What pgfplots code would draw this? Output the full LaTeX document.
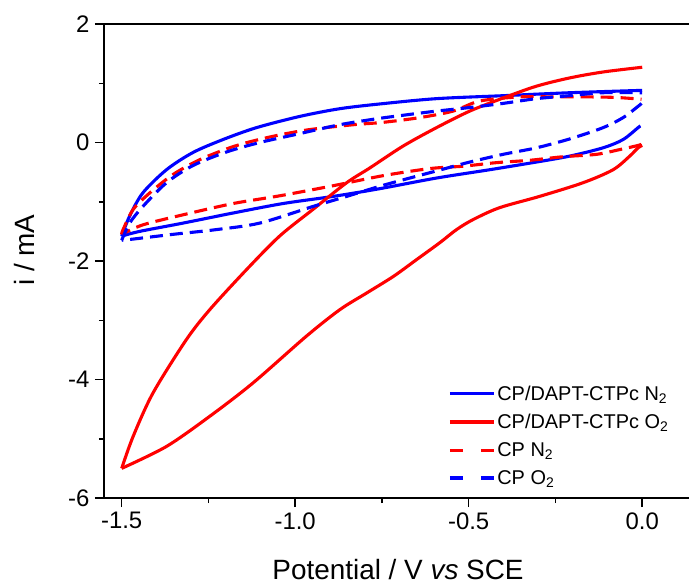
\documentclass[border=0pt]{standalone}
\usepackage{fontspec}
\setmainfont{Liberation Sans}
\usepackage{pgfplots}
\pgfplotsset{compat=1.18}
\pgfplotsset{
 solidlegend/.style={legend image code/.code={\draw[##1] (0bp,0bp) -- (44bp,0bp);}},
 dashlegend/.style={legend image code/.code={\draw[##1, dash pattern=on 13bp off 18bp] (0bp,0bp) -- (44bp,0bp);}},
 cv/.style={line width=3.1bp, smooth, tension=0.5},
 dsh/.style={dash pattern=on 13bp off 7bp},
}
\begin{document}
\begin{tikzpicture}
\begin{axis}[
 scale only axis, width=585bp, height=474bp,
 xmin=-1.551, xmax=0.1349, ymin=-6, ymax=2,
 axis x line*=bottom, axis y line*=left,
 axis line style={line width=1.5bp, -},
 xtick={-1.5,-1,-0.5,0}, ytick={-6,-4,-2,0,2},
 minor xtick={-1.25,-0.75,-0.25}, minor ytick={-5,-3,-1,1},
 tick align=outside, major tick length=9bp, minor tick length=5bp,
 every tick/.style={line width=1.5bp, black},
 xticklabel style={yshift=-2bp, /pgf/number format/.cd, fixed, fixed zerofill, precision=1},
 /pgf/number format/assume math mode=true,
 ticklabel style={font=\fontsize{24}{28}\selectfont},
 yticklabel style={xshift=-2bp},
 xlabel={Potential / V \textit{vs} SCE},
 ylabel={i / mA},
 xlabel style={at={(axis description cs:0.5026,-0.171)}, anchor=base, font=\fontsize{28}{32}\selectfont},
 ylabel style={at={(axis description cs:-0.136,0.523)}, anchor=center, font=\fontsize{28}{32}\selectfont},
 legend style={draw=none, fill=none, at={(axis description cs:0.583,0.246)}, anchor=north west,
   font=\fontsize{20}{24}\selectfont, row sep=8.5bp},
 legend cell align=left,
]
% CP/DAPT-CTPc N2
\addplot[blue, cv, solidlegend] coordinates {
(-0.005,0.28) (-0.012,0.25) (-0.055,0.05) (-0.113,-0.09) (-0.209,-0.23) (-0.305,-0.33) (-0.44,-0.46) (-0.593,-0.60) (-0.757,-0.78) (-0.891,-0.91) (-1.035,-1.03) (-1.179,-1.19) (-1.323,-1.36) (-1.448,-1.50) (-1.5,-1.58)
};
\addlegendentry{CP/DAPT-CTPc N\textsubscript{2}}
\addplot[blue, cv, forget plot] coordinates {
(-1.5,-1.58) (-1.477,-1.24) (-1.439,-0.85) (-1.371,-0.46) (-1.295,-0.17) (-1.208,0.05) (-1.112,0.25) (-0.987,0.44) (-0.872,0.57) (-0.757,0.65) (-0.593,0.74) (-0.401,0.79) (-0.209,0.84) (0,0.88)
};
% CP/DAPT-CTPc O2
\addplot[red, cv, solidlegend] coordinates {
(0,-0.05) (-0.012,-0.09) (-0.036,-0.23) (-0.084,-0.46) (-0.171,-0.68) (-0.296,-0.91) (-0.411,-1.10) (-0.487,-1.30) (-0.535,-1.47) (-0.583,-1.69) (-0.651,-1.98) (-0.717,-2.26) (-0.794,-2.54) (-0.871,-2.82) (-0.968,-3.27) (-1.122,-4.06) (-1.246,-4.62) (-1.371,-5.13) (-1.5,-5.50)
};
\addlegendentry{CP/DAPT-CTPc O\textsubscript{2}}
\addplot[red, cv, forget plot] coordinates {
(-1.5,-5.50) (-1.467,-4.96) (-1.41,-4.23) (-1.314,-3.33) (-1.246,-2.82) (-1.141,-2.15) (-1.045,-1.58) (-0.949,-1.13) (-0.852,-0.68) (-0.785,-0.43) (-0.689,-0.06) (-0.593,0.25) (-0.497,0.53) (-0.401,0.75) (-0.305,0.95) (-0.209,1.09) (-0.113,1.19) (0,1.27)
};
% CP N2
\addplot[red, cv, dsh, dashlegend] coordinates {
(-0.002,-0.03) (-0.012,-0.05) (-0.065,-0.12) (-0.132,-0.20) (-0.228,-0.24) (-0.324,-0.30) (-0.420,-0.34) (-0.516,-0.40) (-0.612,-0.44) (-0.747,-0.56) (-0.891,-0.73) (-1.045,-0.90) (-1.179,-1.03) (-1.323,-1.22) (-1.439,-1.39) (-1.5,-1.55)
};
\addlegendentry{CP N\textsubscript{2}}
\addplot[red, cv, dsh, forget plot] coordinates {
(-1.5,-1.55) (-1.496,-1.47) (-1.467,-1.13) (-1.419,-0.85) (-1.352,-0.54) (-1.275,-0.29) (-1.179,-0.07) (-1.083,0.08) (-0.968,0.21) (-0.833,0.30) (-0.747,0.34) (-0.641,0.42) (-0.545,0.53) (-0.468,0.70) (-0.353,0.77) (-0.257,0.77) (-0.161,0.77) (-0.074,0.76) (-0.002,0.73)
};
% CP O2
\addplot[blue, cv, dsh, dashlegend] coordinates {
(-0.002,0.66) (-0.012,0.61) (-0.055,0.42) (-0.113,0.25) (-0.209,0.06) (-0.305,-0.09) (-0.401,-0.20) (-0.497,-0.33) (-0.593,-0.48) (-0.689,-0.63) (-0.757,-0.74) (-0.852,-0.91) (-0.949,-1.08) (-1.102,-1.36) (-1.227,-1.47) (-1.352,-1.55) (-1.467,-1.63) (-1.5,-1.65)
};
\addlegendentry{CP O\textsubscript{2}}
\addplot[blue, cv, dsh, forget plot] coordinates {
(-1.5,-1.65) (-1.477,-1.36) (-1.439,-1.08) (-1.371,-0.68) (-1.295,-0.39) (-1.198,-0.16) (-1.102,0.0) (-0.987,0.15) (-0.872,0.30) (-0.766,0.40) (-0.689,0.46) (-0.593,0.53) (-0.497,0.59) (-0.401,0.66) (-0.305,0.74) (-0.209,0.79) (-0.113,0.84) (0,0.84)
};
\end{axis}
\draw[line width=1.5bp] (current axis.north west) -- (current axis.north east);
\pgfresetboundingbox
\path[use as bounding box] ([shift={(-104bp,-87bp)}]current axis.south west) rectangle ++(689bp,585bp);
\end{tikzpicture}
\end{document}
